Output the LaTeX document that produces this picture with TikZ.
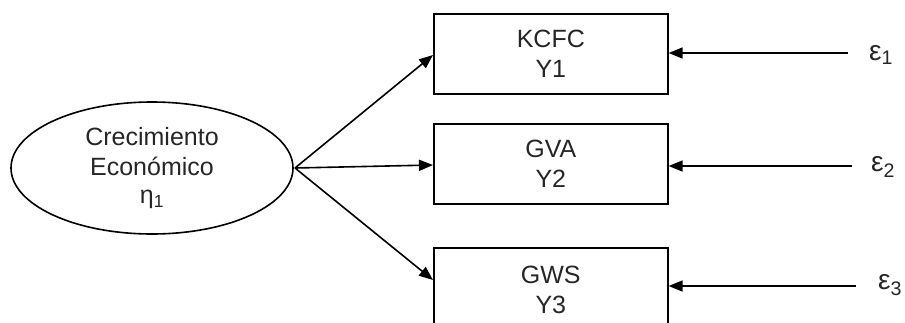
\documentclass[tikz,border=0pt]{standalone}
\usepackage{fontspec}
\setmainfont{Liberation Sans}
\usetikzlibrary{shapes.geometric,arrows.meta}
\begin{document}
\begin{tikzpicture}[x=1pt,y=-1pt,
  every node/.style={font=\fontsize{25}{30}\selectfont, text=black!85},
  varbox/.style={draw, line width=1.6pt, minimum width=234pt, minimum height=80pt, inner sep=0pt, align=center, anchor=north west},
  latent/.style={draw, ellipse, line width=1.6pt, minimum width=282pt, minimum height=132pt, inner sep=0pt, align=center},
  path/.style={line width=1.6pt, -{Triangle[length=14pt,width=11pt]}},
  errlabel/.style={anchor=west, inner sep=0pt, font=\fontsize{28}{30}\selectfont}]
  \useasboundingbox (0,0) rectangle (905,322);
  \clip (0,0) rectangle (905,322);

  % latent variable
  \node[latent] (eta) at (152,168) {Crecimiento\\Económico\\[-2pt]η\textsubscript{1}};
  \coordinate (src) at (295,168);

  % observed indicators
  \node[varbox] (y1) at (433,13)  {KCFC\\Y1};
  \node[varbox] (y2) at (433,123) {GVA\\Y2};
  \node[varbox, minimum height=84pt] (y3) at (433,247) {GWS\\Y3};

  % loadings
  \draw[path] (src) -- (y1.west |- 0,55);
  \draw[path] (src) -- (y2.west |- 0,165);
  \draw[path] (src) -- (y3.west |- 0,280);

  % error terms
  \coordinate (e1) at (848,53);
  \coordinate (e2) at (852,166);
  \coordinate (e3) at (856,286);
  \draw[path] (e1) -- (y1.east |- e1);
  \draw[path] (e2) -- (y2.east |- e2);
  \draw[path] (e3) -- (y3.east |- e3);
  \node[errlabel] (l1) at (869,55)  {ε\textsubscript{1}};
  \node[errlabel] (l2) at (871,167) {ε\textsubscript{2}};
  \node[errlabel] (l3) at (878,285) {ε\textsubscript{3}};
\end{tikzpicture}
\end{document}
